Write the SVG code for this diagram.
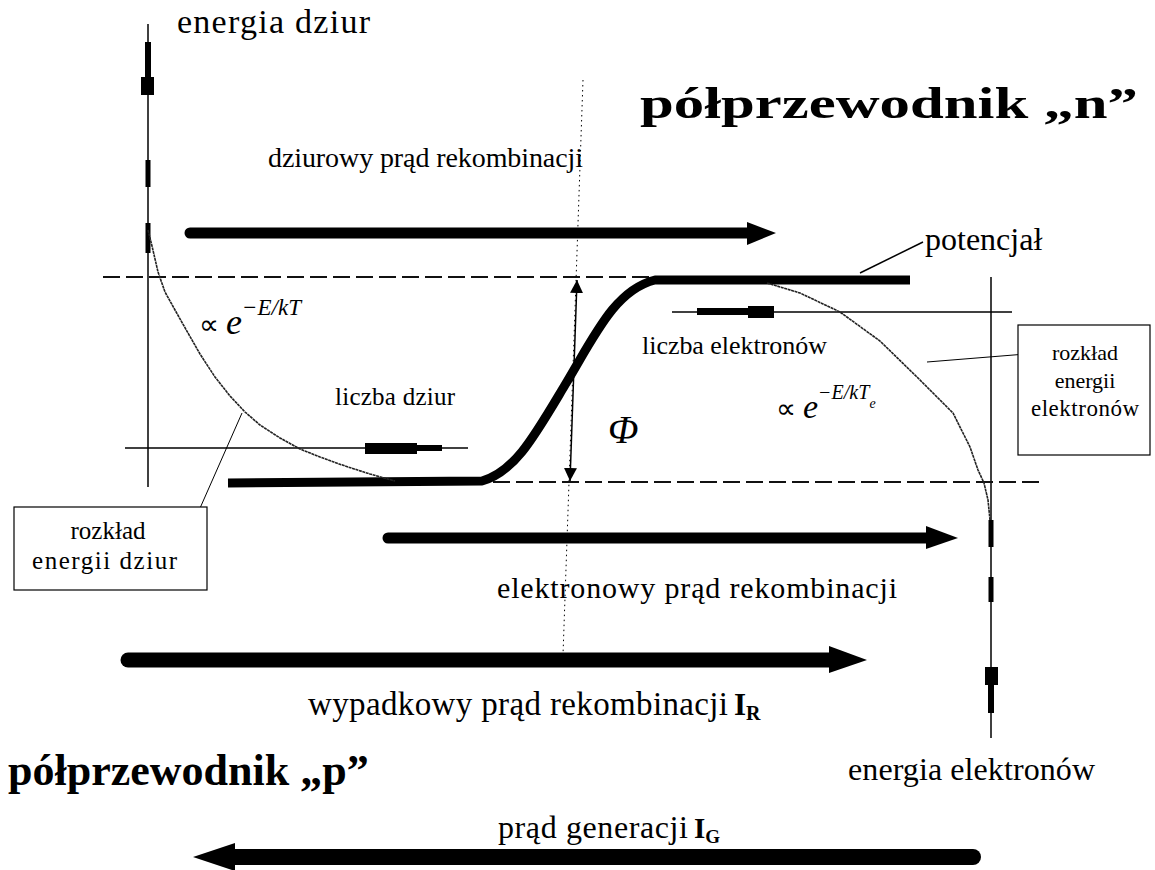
<svg xmlns="http://www.w3.org/2000/svg" width="1155" height="870" viewBox="0 0 1155 870">
<defs>
<style>
text{font-family:"Liberation Serif","Times New Roman",serif;fill:#000}
.b{font-size:44px;font-weight:bold}
.thin{stroke:#000;stroke-width:1.5;fill:none}
.dash{stroke:#111;stroke-width:2;stroke-dasharray:17 6;fill:none}
.curve{stroke:#222;stroke-width:1.6;fill:none;stroke-dasharray:3 0.6}
.pot{stroke:#000;stroke-width:9;fill:none;stroke-linejoin:round}
.box{fill:#fff;stroke:#000;stroke-width:1.2}
.shaft{stroke:#000;fill:none;stroke-linecap:round}
</style>
<marker id="ah" viewBox="0 0 10 10" refX="10" refY="5" markerWidth="13" markerHeight="13" markerUnits="userSpaceOnUse" orient="auto-start-reverse">
<path d="M0,0 L10,5 L0,10 Z" fill="#000"/>
</marker>
</defs>

<g id="axes">
<line class="thin" x1="148" y1="24" x2="148" y2="487"/>
<rect x="145" y="42" width="6" height="35" fill="#000"/>
<rect x="141" y="77" width="13" height="18" fill="#000"/>
<rect x="145.5" y="160" width="5" height="27" fill="#000"/>
<rect x="145.5" y="223" width="5" height="30" fill="#000"/>
<line class="thin" x1="991" y1="277" x2="991" y2="738"/>
<rect x="988.5" y="520" width="5" height="27" fill="#000"/>
<rect x="988.5" y="577" width="5" height="25" fill="#000"/>
<rect x="985" y="667" width="13" height="18" fill="#000"/>
<rect x="988" y="685" width="6" height="28" fill="#000"/>
</g>

<g id="levels">
<line class="dash" x1="103" y1="277" x2="652" y2="277"/>
<line class="dash" x1="470" y1="482" x2="1040" y2="482"/>
<line class="thin" x1="125" y1="448" x2="468" y2="448"/>
<rect x="365" y="443" width="52" height="11" fill="#000"/>
<rect x="417" y="445" width="25" height="6" fill="#000"/>
<line class="thin" x1="672" y1="312" x2="1012" y2="312"/>
<rect x="697" y="308" width="51" height="7" fill="#000"/>
<rect x="748" y="306" width="26" height="12" fill="#000"/>
<line x1="583" y1="80" x2="563" y2="655" stroke="#000" stroke-width="1" stroke-dasharray="1.5 3.5"/>
</g>

<g id="potential">
<path class="pot" d="M228,483 L482,481 C515,472 535,435 565,385 C595,335 615,290 655,280 L910,280"/>
</g>

<g id="distributions">
<path class="curve" d="M148,230 L152,246 L158,272 L165,292 L175,310 L188,333 L200,354 L215,377 L230,396 L245,412 L260,425 L280,438 L300,449 L320,457 L345,466 L370,474 L395,481"/>
<path class="curve" d="M767,283 L800,293 L840,312 L880,341 L920,380 L953,413 L970,447 L978,470 L984,483 L988,500 L990,520"/>
</g>

<g id="phi">
<line x1="577" y1="280" x2="570" y2="481" stroke="#000" stroke-width="1.5" marker-start="url(#ah)" marker-end="url(#ah)"/>
<text x="608" y="443" font-size="40" font-style="italic">Φ</text>
</g>

<g id="connectors">
<line class="shaft" x1="190" y1="233" x2="750" y2="233" stroke-width="11"/>
<path d="M747,222 L776,233 L747,245 Z" fill="#000"/>
<line class="shaft" x1="388" y1="538" x2="930" y2="538" stroke-width="11"/>
<path d="M926,526 L958,538 L926,549 Z" fill="#000"/>
<line class="shaft" x1="128" y1="660" x2="832" y2="660" stroke-width="15"/>
<path d="M829,646 L867,660 L829,673 Z" fill="#000"/>
<line class="shaft" x1="973" y1="857" x2="232" y2="857" stroke-width="16"/>
<path d="M235,843 L193,857 L235,871 Z" fill="#000"/>
<line class="thin" x1="860" y1="273" x2="923" y2="242"/>
<line x1="242" y1="413" x2="197" y2="515" stroke="#000" stroke-width="1"/>
<line x1="927" y1="362" x2="1026" y2="354" stroke="#000" stroke-width="1"/>
</g>

<g id="box-dziur">
<rect class="box" x="14" y="507" width="193" height="83"/>
<text x="108" y="539" font-size="25" text-anchor="middle">rozkład</text>
<text x="32" y="569" font-size="25" textLength="145" lengthAdjust="spacing">energii dziur</text>
</g>

<g id="box-elektronow">
<rect class="box" x="1018" y="325" width="132" height="130"/>
<text x="1085" y="360" font-size="22" text-anchor="middle">rozkład</text>
<text x="1085" y="388" font-size="22" text-anchor="middle">energii</text>
<text x="1031" y="416" font-size="23" textLength="108" lengthAdjust="spacing">elektronów</text>
</g>

<g id="labels">
<text x="177" y="33" font-size="34" textLength="193" lengthAdjust="spacing">energia dziur</text>
<text class="b" x="640" y="118" textLength="498" lengthAdjust="spacingAndGlyphs">półprzewodnik „n”</text>
<text x="268" y="167" font-size="28" textLength="315" lengthAdjust="spacing">dziurowy prąd rekombinacji</text>
<text x="925" y="250" font-size="32">potencjał</text>
<text x="199" y="334" font-size="28">∝ <tspan font-style="italic" font-size="36">e</tspan><tspan font-style="italic" font-size="23" dy="-19">−E/kT</tspan></text>
<text x="335" y="405" font-size="25" textLength="120" lengthAdjust="spacing">liczba dziur</text>
<text x="642" y="354" font-size="26" textLength="185" lengthAdjust="spacing">liczba elektronów</text>
<text x="776" y="418" font-size="28">∝ <tspan font-style="italic" font-size="34">e</tspan><tspan font-style="italic" font-size="20" dy="-19">−E/kT</tspan><tspan font-style="italic" font-size="14" dy="9">e</tspan></text>
<text x="497" y="598" font-size="30" textLength="400" lengthAdjust="spacing">elektronowy prąd rekombinacji</text>
<text x="308" y="715" font-size="33" textLength="420" lengthAdjust="spacing">wypadkowy prąd rekombinacji</text>
<text x="734" y="715" font-size="31" font-weight="bold">I<tspan font-size="20" dy="5">R</tspan></text>
<text x="848" y="780" font-size="32" textLength="247" lengthAdjust="spacing">energia elektronów</text>
<text class="b" x="8" y="785">półprzewodnik „p”</text>
<text x="498" y="838" font-size="32" textLength="190" lengthAdjust="spacing">prąd generacji</text>
<text x="694" y="838" font-size="29" font-weight="bold">I<tspan font-size="19" dy="5">G</tspan></text>
</g>
</svg>
